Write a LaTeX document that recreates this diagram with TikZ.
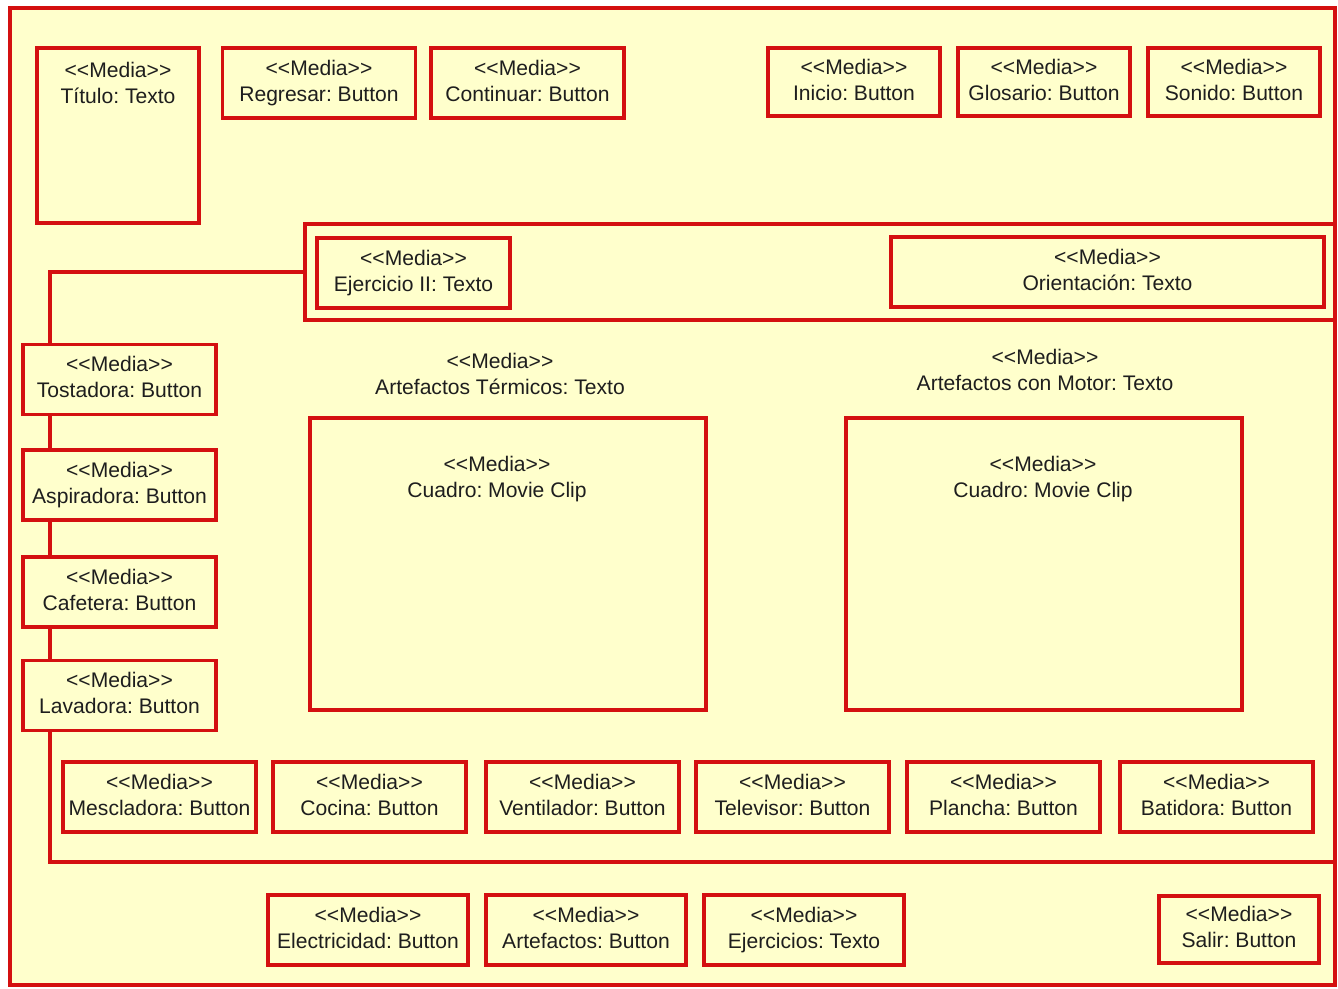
\documentclass[tikz,border=0pt]{standalone}
\usepackage{fontspec}
\setmainfont{Liberation Sans}
\usepackage{xcolor}
\usepackage{tikz}
\tikzset{>=latex}
\usetikzlibrary{calc}
\usetikzlibrary{backgrounds}
\definecolor{myred}{HTML}{D41010}
\definecolor{myyellow}{HTML}{FFFFCC}
\definecolor{myink}{HTML}{1E1E1E}
\newcommand{\mediatag}{\strut<{}<Media>{}>}
\frenchspacing
\tikzset{
	lbl/.style={text=myink,align=center,inner sep=0pt,font=\fontsize{12}{15}\selectfont\frenchspacing,execute at end node=\strut},
	media/.style={lbl,draw=myred,line width=2pt,fill=myyellow},
	btn/.style={media,minimum width=3.86cm,minimum height=1.4cm},
	topbtn/.style={media,minimum width=3.44cm,minimum height=1.36cm},
	lowbtn/.style={media,minimum width=4cm,minimum height=1.4cm},
	cuadro/.style={media,minimum width=7.92cm,minimum height=5.84cm},
	wire/.style={draw=myred,line width=2pt}
}

\begin{document}
\begin{tikzpicture}[x=0.02cm,y=-0.02cm]
		\fill[white] (0,0) rectangle (1338,988);
		\useasboundingbox (0,0) rectangle (1338,988);
		\draw[myred,fill=myyellow,line width=2pt] (10,8) rectangle (1335,985);

		% top row
		\node[media,minimum width=3.24cm,minimum height=3.5cm,
			label={[lbl,anchor=north,yshift=-0.24cm]north:{\mediatag\\Título: Texto}}] (titulo) at (118,135.5) {};
		\node[btn] (regresar) at (319,83) {\mediatag\\Regresar: Button};
		\node[btn] (continuar) at (527.5,83) {\mediatag\\Continuar: Button};
		\node[topbtn] (inicio) at (854,82) {\mediatag\\Inicio: Button};
		\node[topbtn] (glosario) at (1044,82) {\mediatag\\Glosario: Button};
		\node[topbtn] (sonido) at (1234,82) {\mediatag\\Sonido: Button};

		% panel
		\node[media,minimum width=20.6cm,minimum height=1.92cm] (panel) at (820,272) {};
		\node[btn] (ejercicio) at (413.5,273) {\mediatag\\Ejercicio II: Texto};
		\node[media,minimum width=8.66cm,minimum height=1.4cm] (orientacion) at (1107.5,272) {\mediatag\\Orientación: Texto};

		% left column
		\node[btn] (tostadora) at (119.5,379.5) {\mediatag\\Tostadora: Button};
		\node[btn] (aspiradora) at (119.5,485) {\mediatag\\Aspiradora: Button};
		\node[btn] (cafetera) at (119.5,592) {\mediatag\\Cafetera: Button};
		\node[btn] (lavadora) at (119.5,695.5) {\mediatag\\Lavadora: Button};

		\coordinate (rail) at (50,272);
		\coordinate (bend) at (50,862);
		\coordinate (railend) at (1335,862);
		\draw[wire] (panel.west) -- (rail) -- (rail |- tostadora.north);
		\draw[wire] (rail |- tostadora.south) -- (rail |- aspiradora.north);
		\draw[wire] (rail |- aspiradora.south) -- (rail |- cafetera.north);
		\draw[wire] (rail |- cafetera.south) -- (rail |- lavadora.north);
		\draw[wire] (rail |- lavadora.south) -- (bend) -- (railend);

		% centre
		\node[lbl] (termicos) at (500,376) {\mediatag\\Artefactos Térmicos: Texto};
		\node[lbl] (motor) at (1045,372) {\mediatag\\Artefactos con Motor: Texto};
		\node[cuadro,label={[lbl,anchor=north,xshift=-0.22cm,yshift=-0.72cm]north:{\mediatag\\Cuadro: Movie Clip}}] (cuadroa) at (508,564) {};
		\node[cuadro,label={[lbl,anchor=north,xshift=-0.02cm,yshift=-0.72cm]north:{\mediatag\\Cuadro: Movie Clip}}] (cuadrob) at (1044,564) {};

		% bottom row
		\node[btn] (mescladora) at (159.5,797) {\mediatag\\Mescladora: Button};
		\node[btn] (cocina) at (369.5,797) {\mediatag\\Cocina: Button};
		\node[btn] (ventilador) at (582.5,797) {\mediatag\\Ventilador: Button};
		\node[btn] (televisor) at (792.5,797) {\mediatag\\Televisor: Button};
		\node[btn] (plancha) at (1003.5,797) {\mediatag\\Plancha: Button};
		\node[btn] (batidora) at (1216.5,797) {\mediatag\\Batidora: Button};

		\node[lowbtn] (electricidad) at (368,930) {\mediatag\\Electricidad: Button};
		\node[lowbtn] (artefactos) at (586,930) {\mediatag\\Artefactos: Button};
		\node[lowbtn] (ejercicios) at (804,930) {\mediatag\\Ejercicios: Texto};
		\node[media,minimum width=3.2cm,minimum height=1.34cm] (salir) at (1239,929.5) {\mediatag\\Salir: Button};
	\end{tikzpicture}
\end{document}
